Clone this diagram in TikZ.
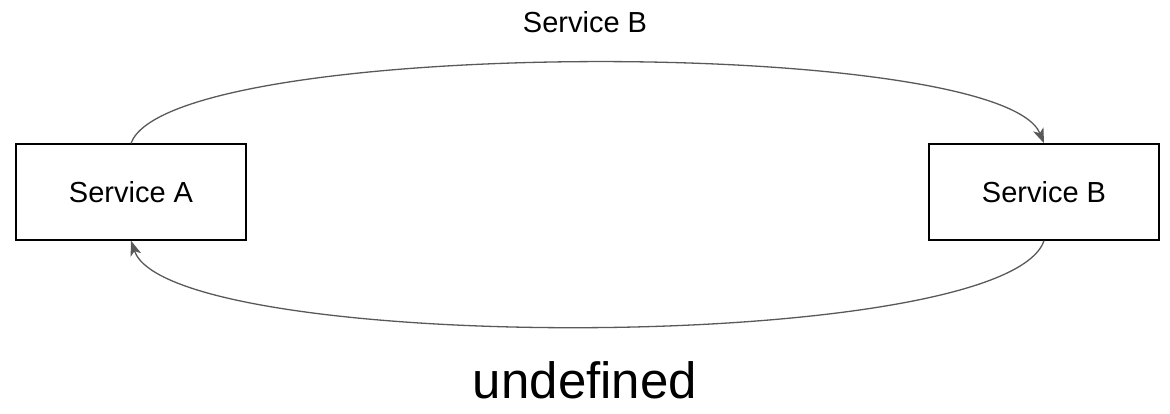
\documentclass[tikz,border=0pt]{standalone}
\usepackage{fontspec}
\setmainfont{Liberation Sans}
\usepackage{tikz}
\usetikzlibrary{arrows.meta,calc}

\begin{document}
\begin{tikzpicture}[x=1pt, y=-1pt,
  box/.style={draw, line width=1.4pt, minimum width=230pt, minimum height=96pt, inner sep=0pt, font=\fontsize{29}{34}\selectfont},
  lbl/.style={inner sep=0pt, font=\fontsize{29}{34}\selectfont},
  big/.style={inner sep=0pt, font=\fontsize{51}{60}\selectfont},
  flow/.style={draw=gray!70!black, line width=1.3pt, -{Stealth[length=15pt, width=11pt, inset=4pt]}}]
\useasboundingbox (0,0) rectangle (1170,413);
\node[box] (a) at (131,192) {Service A};
\node[box] (b) at (1044,192) {Service B};
\node[lbl] (top) at (585,22) {Service B};
\node[big] (bottom) at (585,380) {undefined};
\draw[flow] (a.north) .. controls (170,36) and (1000,36) .. (b.north);
\draw[flow] (b.south) .. controls (1005,355) and (170,355) .. (a.south);
\end{tikzpicture}
\end{document}
